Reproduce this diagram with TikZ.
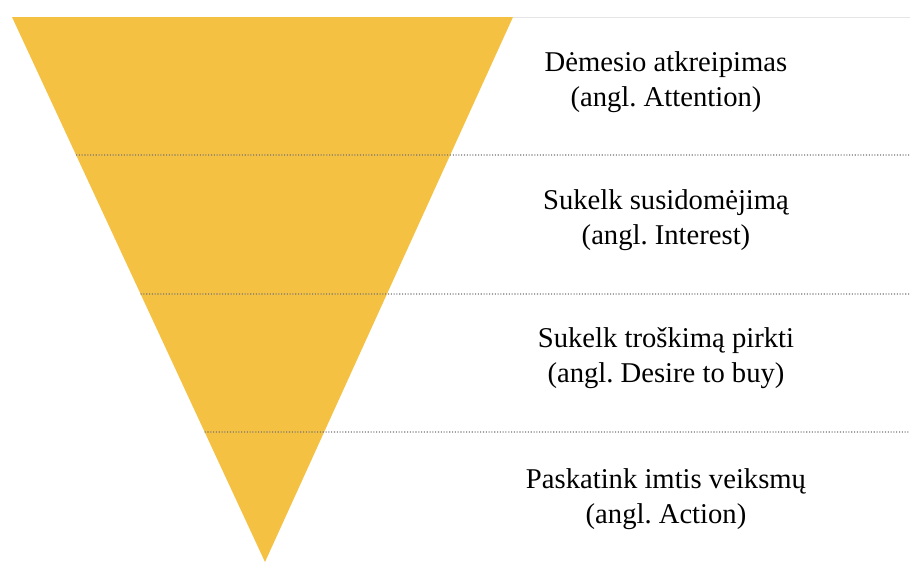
\documentclass[tikz,border=0pt]{standalone}
\usepackage{fontspec}
\setmainfont{Liberation Serif}
\usepackage{tikz}
\definecolor{funnelyellow}{HTML}{F4C143}
\usetikzlibrary{calc}
\usetikzlibrary{positioning}
\tikzstyle{stage}=[align=center, font={\frenchspacing\fontsize{16.3}{20}\selectfont}, inner sep=0mm]
\tikzstyle{divider}=[densely dotted, line width=.6pt, black!55]

\begin{document}
\begin{tikzpicture}[x=0.02cm, y=-0.02cm]

    \useasboundingbox (0, 0) rectangle (910, 562);

    \coordinate (topleft) at (12, 17);
    \coordinate (topright) at (513, 17);
    \coordinate (apex) at (265, 562);
    \coordinate (edge) at (910, 17);

    \fill[funnelyellow] (topleft) -- (topright) -- (apex) -- cycle;
    \draw[black!10, line width=.4pt] (topright) -- (edge);

    % dotted dividers between the stages
    \foreach \y/\name in {155/one, 294/two, 432/three} {
        \coordinate (\name-l) at ($(topleft)!{(\y-17)/545}!(apex)$);
        \coordinate (\name-r) at (910, \y);
        \draw[divider] (\name-l) -- (\name-r);
    }

    \node[stage] (attention) at (666, 82) {Dėmesio atkreipimas\\(angl. Attention)};
    \node[stage] (interest) at (666, 220) {Sukelk susidomėjimą\\(angl. Interest)};
    \node[stage] (desire) at (666, 358) {Sukelk troškimą pirkti\\(angl. Desire to buy)};
    \node[stage] (action) at (666, 499) {Paskatink imtis veiksmų\\(angl. Action)};

\end{tikzpicture}
\end{document}
